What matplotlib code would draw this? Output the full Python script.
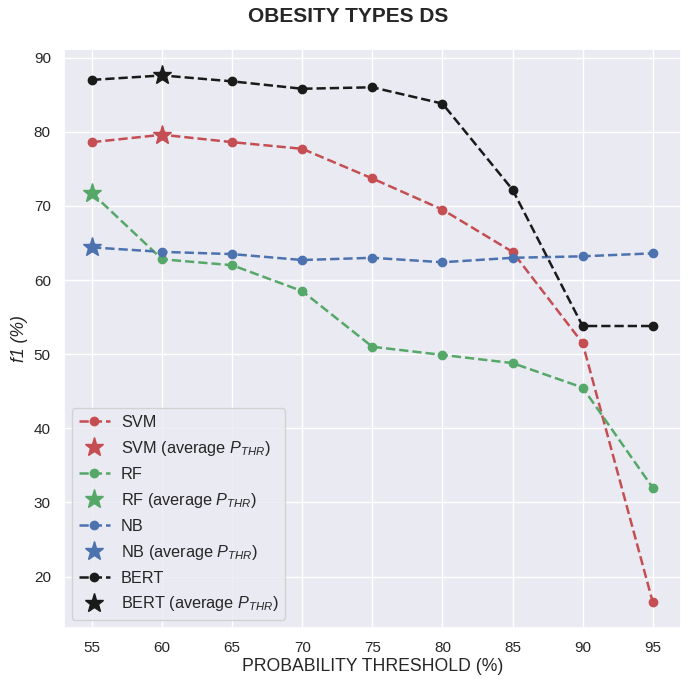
import matplotlib
matplotlib.use("Agg")
import matplotlib.pyplot as plt
import seaborn as sns

sns.set_theme(style="darkgrid", color_codes=True)
plt.rcParams["font.family"] = ["Liberation Sans", "DejaVu Sans"]
plt.rcParams["mathtext.fontset"] = "custom"
plt.rcParams["mathtext.it"] = "Liberation Sans:italic"
plt.rcParams["mathtext.rm"] = "Liberation Sans"

thresholds = [55, 60, 65, 70, 75, 80, 85, 90, 95]
svm = [78.6, 79.6, 78.6, 77.7, 73.7, 69.5, 63.8, 51.5, 16.6]
rf = [71.7, 62.8, 62.0, 58.5, 51.0, 49.9, 48.8, 45.5, 32.0]
nb = [64.4, 63.8, 63.5, 62.7, 63.0, 62.4, 63.0, 63.2, 63.6]
bert = [87.0, 87.6, 86.8, 85.8, 86.0, 83.8, 72.2, 53.8, 53.8]

models = ["SVM", "RF", "NB", "BERT"]
series = [svm, rf, nb, bert]
colors = ["r", "g", "b", "k"]
avg_thr = [60, 55, 55, 60]

fig = plt.figure(figsize=(6.96, 6.82), dpi=100)
ax = fig.add_axes([0.092, 0.079, 0.886, 0.849])

for name, vals, c, t in zip(models, series, colors, avg_thr):
    ax.plot(thresholds, vals, linestyle="--", marker="o", color=c,
            markersize=6, linewidth=1.8, label=name)
    i = thresholds.index(t)
    ax.plot([t], [vals[i]], linestyle="none", marker="*", color=c,
            markersize=14, label=f"{name} (average $P_{{THR}}$)")

ax.set_xticks(thresholds)
ax.set_yticks([20, 30, 40, 50, 60, 70, 80, 90])
ax.tick_params(labelsize=11)
ax.set_xlabel("PROBABILITY THRESHOLD (%)", fontsize=12.7, labelpad=2)
ax.set_ylabel("f1 (%)", fontsize=12.7, style="italic")
fig.suptitle("OBESITY TYPES DS", fontsize=15, fontweight="bold", y=0.99)
ax.legend(loc="lower left", fontsize=11.7, handlelength=1.9,
          handletextpad=0.7, labelspacing=0.55)

fig.savefig("out.png", dpi=100)
